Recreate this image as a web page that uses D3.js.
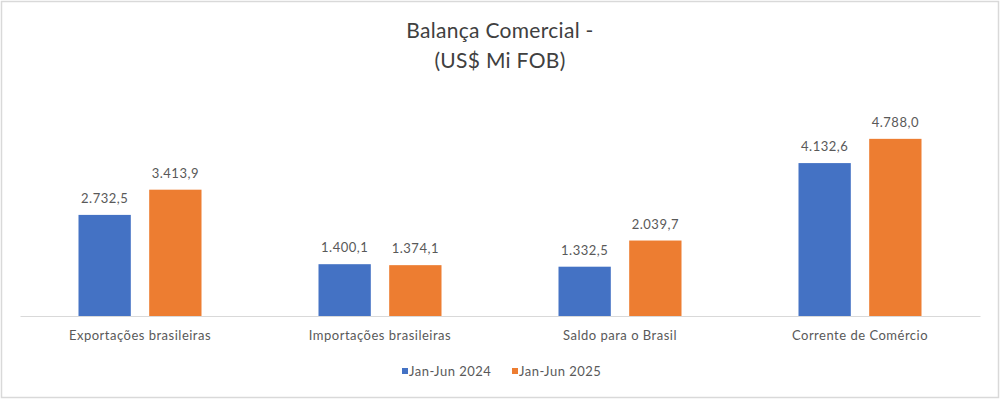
<!DOCTYPE html>
<html><head><meta charset="utf-8">
<script src="https://cdn.jsdelivr.net/npm/d3@7"></script>
<style>body{margin:0;background:#fff;}svg{display:block;font-family:Lato,"Open Sans",sans-serif;}</style>
</head><body>
<svg id="c" width="1002" height="400"></svg>
<script>
const categories = ["Exportações brasileiras","Importações brasileiras","Saldo para o Brasil","Corrente de Comércio"];
const seriesNames = ["Jan-Jun 2024","Jan-Jun 2025"];
const values2024 = [2732.5, 1400.1, 1332.5, 4132.6];
const values2025 = [3413.9, 1374.1, 2039.7, 4788.0];
const colors = ["#4472C4","#ED7D31"];
const fmt = v => d3.format(",.1f")(v).replace(/,/g,"X").replace(".",",").replace(/X/g,".");

const svg = d3.select("#c");
svg.append("rect").attr("x",1.5).attr("y",1.5).attr("width",997).attr("height",396)
  .attr("fill","#fff").attr("stroke","#d9d9d9").attr("stroke-width",1.5);

const plotLeft=20,plotRight=980,plotBase=316,plotTop=94;
const x = d3.scaleBand().domain(categories).range([plotLeft,plotRight]).paddingInner(0).paddingOuter(0);
const y = d3.scaleLinear().domain([0,6000]).range([plotBase,plotTop]);
const xs = d3.scaleBand().domain(seriesNames).range([0,123]).paddingInner(0.26).paddingOuter(0);

svg.append("text").attr("x",500).attr("y",38).attr("text-anchor","middle").attr("font-size",21).attr("letter-spacing",0.3).attr("fill","#404040").text("Balança Comercial -");
svg.append("text").attr("x",500).attr("y",68).attr("text-anchor","middle").attr("font-size",21).attr("letter-spacing",0.3).attr("fill","#404040").text("(US$ Mi FOB)");

const data = categories.map((c,i)=>({c, vals:[values2024[i],values2025[i]]}));
const g = svg.selectAll("g.cat").data(data).join("g").attr("class","cat")
  .attr("transform",d=>`translate(${x(d.c)+x.bandwidth()/2-61.5},0)`);
g.selectAll("rect").data(d=>d.vals.map((v,j)=>({v,s:seriesNames[j],j}))).join("rect")
  .attr("x",d=>xs(d.s)).attr("width",xs.bandwidth())
  .attr("y",d=>y(d.v)).attr("height",d=>y(0)-y(d.v)).attr("fill",d=>colors[d.j]);
g.selectAll("text.val").data(d=>d.vals.map((v,j)=>({v,s:seriesNames[j],j}))).join("text").attr("class","val")
  .attr("x",d=>xs(d.s)+xs.bandwidth()/2).attr("y",d=>y(d.v)-12).attr("text-anchor","middle")
  .attr("font-size",13).attr("letter-spacing",0.5).attr("fill","#595959").text(d=>fmt(d.v));

const ax = svg.append("g").attr("transform",`translate(0,${plotBase})`).call(d3.axisBottom(x).tickSize(0).tickPadding(15));
ax.select(".domain").attr("stroke","#d9d9d9");
ax.selectAll("text").attr("font-size",13).attr("letter-spacing",0.5).attr("fill","#595959").attr("font-family","Lato,'Open Sans',sans-serif");

const leg = svg.append("g");
const lx=[402,512];
seriesNames.forEach((s,i)=>{
  leg.append("rect").attr("x",lx[i]).attr("y",368).attr("width",6).attr("height",6).attr("fill",colors[i]);
  leg.append("text").attr("x",lx[i]+7).attr("y",376).attr("font-size",13).attr("letter-spacing",0.5).attr("fill","#595959").text(s);
});
</script>
</body></html>
